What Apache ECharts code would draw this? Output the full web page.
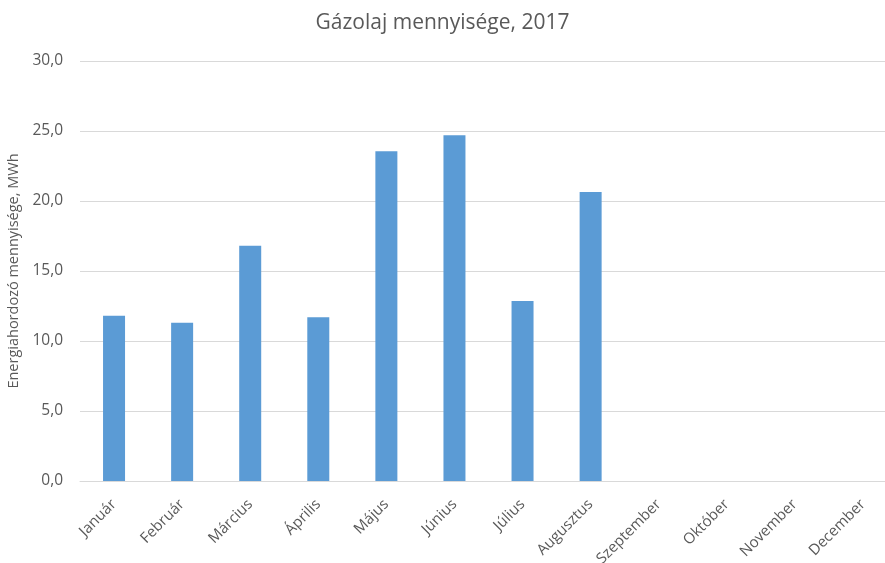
<!DOCTYPE html>
<html>
<head>
<meta charset="utf-8">
<script src="https://cdn.jsdelivr.net/npm/echarts@6/dist/echarts.min.js"></script>
<style>
  html, body { margin: 0; padding: 0; background: #fff; }
  #chart { width: 885px; height: 563px; }
</style>
</head>
<body>
<div id="chart"></div>
<script>
const titleText = 'Gázolaj mennyisége, 2017';
const yAxisName = 'Energiahordozó mennyisége, MWh';
const categories = ['Január', 'Február', 'Március', 'Április', 'Május', 'Június', 'Július', 'Augusztus', 'Szeptember', 'Október', 'November', 'December'];
const values = [11.8, 11.3, 16.8, 11.7, 23.55, 24.7, 12.85, 20.65, null, null, null, null];

const chart = echarts.init(document.getElementById('chart'), null, { renderer: 'canvas' });
const font = '"Open Sans", "Noto Sans", sans-serif';
chart.setOption({
  animation: false,
  backgroundColor: '#ffffff',
  title: {
    text: titleText,
    left: 'center',
    top: 8,
    textStyle: { fontFamily: font, fontSize: 21, fontWeight: 'normal', color: '#595959' }
  },
  grid: { left: 80, top: 61, width: 817, height: 420, containLabel: false, outerBoundsMode: 'none' },
  xAxis: {
    type: 'category',
    data: categories,
    axisLine: { lineStyle: { color: '#d9d9d9', width: 1 } },
    axisTick: { show: false },
    axisLabel: {
      rotate: 45,
      interval: 0,
      margin: 21,
      fontFamily: font,
      fontSize: 15,
      color: '#595959'
    }
  },
  yAxis: {
    type: 'value',
    min: 0,
    max: 30,
    interval: 5,
    name: yAxisName,
    nameLocation: 'middle',
    nameGap: 54,
    nameTextStyle: { fontFamily: font, fontSize: 14.5, color: '#595959' },
    axisLine: { show: false },
    axisTick: { show: false },
    splitLine: { lineStyle: { color: '#d9d9d9', width: 1 } },
    axisLabel: {
      margin: 17,
      fontFamily: font,
      fontSize: 15.5,
      color: '#595959',
      formatter: v => v.toFixed(1).replace('.', ',')
    }
  },
  series: [{
    type: 'bar',
    data: values,
    barWidth: 22,
    itemStyle: { color: '#5B9BD5' }
  }]
});
</script>
</body>
</html>
